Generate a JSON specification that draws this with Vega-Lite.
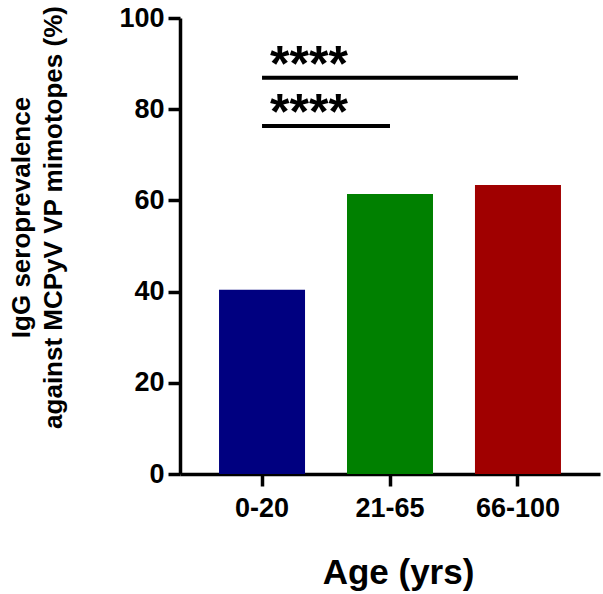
{
  "$schema": "https://vega.github.io/schema/vega-lite/v6.json",
  "width": 420,
  "height": 456,
  "autosize": {"type": "none"},
  "padding": {"left": 180, "top": 18, "right": 3, "bottom": 120},
  "background": "white",
  "config": {"view": {"stroke": null}, "font": "Liberation Sans"},
  "datasets": {
    "bars": [
      {"age": "0-20", "pct": 40.4},
      {"age": "21-65", "pct": 61.4},
      {"age": "66-100", "pct": 63.4}
    ],
    "sig": [
      {"from": "0-20", "to": "66-100", "y": 86.9, "label": "****"},
      {"from": "0-20", "to": "21-65", "y": 76.3, "label": "****"}
    ]
  },
  "layer": [
    {
      "data": {"name": "bars"},
      "mark": {"type": "bar"},
      "encoding": {
        "x": {
          "field": "age", "type": "nominal", "title": "Age (yrs)",
          "scale": {"domain": ["0-20", "21-65", "66-100"], "paddingInner": 0.328, "paddingOuter": 0.305},
          "axis": {
            "domainWidth": 3.5, "domainColor": "black", "tickWidth": 3.5, "tickColor": "black", "tickSize": 12,
            "labelFontSize": 27, "labelFont": "Liberation Sans", "labelFontWeight": "bold", "labelColor": "black",
            "labelPadding": 9, "labelAngle": 0,
            "titleFontSize": 35, "titleFont": "Liberation Sans", "titleFontWeight": "bold", "titleColor": "black",
            "titleX": 218, "titleY": 109, "titleBaseline": "alphabetic", "titleAlign": "center", "grid": false
          }
        },
        "y": {
          "field": "pct", "type": "quantitative",
          "scale": {"domain": [0, 100], "nice": false},
          "axis": {
            "values": [0, 20, 40, 60, 80, 100],
            "title": ["IgG seroprevalence", "against MCPyV VP mimotopes (%)"],
            "domainWidth": 3.5, "domainColor": "black", "tickWidth": 3.5, "tickColor": "black", "tickSize": 12,
            "labelFontSize": 27, "labelFont": "Liberation Sans", "labelFontWeight": "bold", "labelColor": "black",
            "labelPadding": 4,
            "titleFontSize": 26, "titleFont": "Liberation Sans", "titleFontWeight": "bold", "titleColor": "black",
            "titleX": -151, "titleY": 199, "titleAngle": -90, "titleAlign": "center", "titleBaseline": "alphabetic",
            "titleLineHeight": 32, "grid": false
          }
        },
        "color": {
          "field": "age", "type": "nominal",
          "scale": {"domain": ["0-20", "21-65", "66-100"], "range": ["#000080", "#008000", "#A00000"]},
          "legend": null
        }
      }
    },
    {
      "data": {"name": "sig"},
      "mark": {"type": "rule", "strokeWidth": 4, "color": "black"},
      "encoding": {
        "x": {"field": "from", "type": "nominal"},
        "x2": {"field": "to"},
        "y": {"field": "y", "type": "quantitative"}
      }
    },
    {
      "data": {"name": "sig"},
      "mark": {"type": "text", "align": "left", "baseline": "alphabetic", "dx": 8, "dy": 3, "fontSize": 50, "fontWeight": "bold", "font": "Liberation Sans", "color": "black"},
      "encoding": {
        "x": {"field": "from", "type": "nominal"},
        "y": {"field": "y", "type": "quantitative"},
        "text": {"field": "label"}
      }
    }
  ]
}
